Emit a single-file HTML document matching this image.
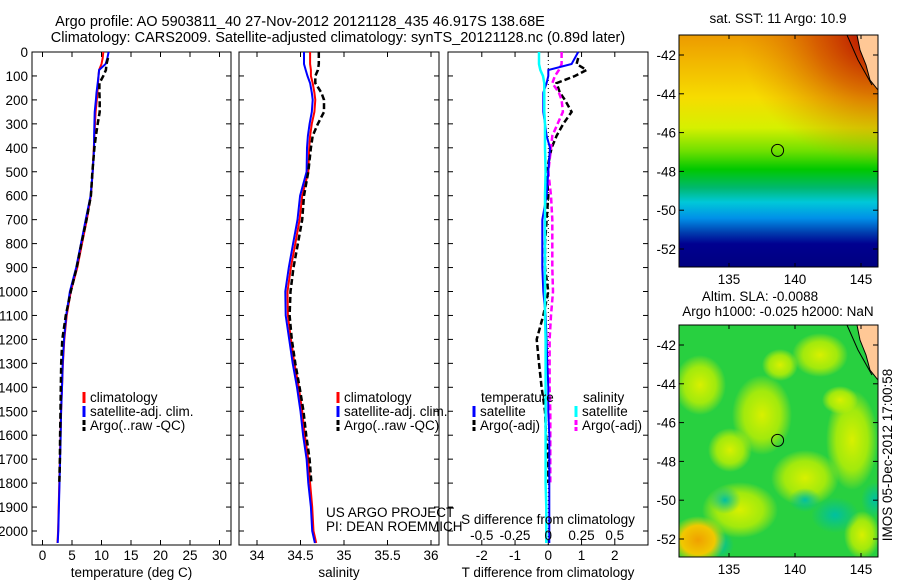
<!DOCTYPE html>
<html><head><meta charset="utf-8"><style>
body{margin:0;background:#fff;}
svg{display:block;font-family:"Liberation Sans",sans-serif;}
text{font-size:13.5px;fill:#000;}
</style></head>
<body>
<svg id="fig" width="900" height="580" viewBox="0 0 900 580">
<rect width="900" height="580" fill="#fff"/>
<text x="300" y="26" text-anchor="middle" style="font-size:14.5px">Argo profile: AO 5903811_40 27-Nov-2012 20121128_435 46.917S 138.68E</text>
<text x="338" y="42" text-anchor="middle" style="font-size:14.5px">Climatology: CARS2009. Satellite-adjusted climatology: synTS_20121128.nc (0.89d later)</text>

<defs>
<linearGradient id="sstg" x1="0" y1="0" x2="0" y2="1">
<stop offset="0" stop-color="#ec9a00"/><stop offset="0.12" stop-color="#f2b800"/><stop offset="0.27" stop-color="#f6dc00"/>
<stop offset="0.4" stop-color="#d6f000"/><stop offset="0.5" stop-color="#70e000"/><stop offset="0.58" stop-color="#00c800"/>
<stop offset="0.66" stop-color="#00b870"/><stop offset="0.72" stop-color="#00c8d8"/><stop offset="0.79" stop-color="#0090e8"/>
<stop offset="0.85" stop-color="#0040b0"/><stop offset="0.9" stop-color="#000090"/><stop offset="1" stop-color="#000080"/>
</linearGradient>
<radialGradient id="hot" cx="1" cy="0" r="1"><stop offset="0" stop-color="#b00000"/><stop offset="0.45" stop-color="#c83000" stop-opacity="0.6"/><stop offset="1" stop-color="#e08000" stop-opacity="0"/></radialGradient>
<radialGradient id="yel" cx="0.5" cy="0.5" r="0.5"><stop offset="0" stop-color="#d8f000"/><stop offset="0.6" stop-color="#c0f000" stop-opacity="0.8"/><stop offset="1" stop-color="#d8f000" stop-opacity="0"/></radialGradient>
<radialGradient id="teal" cx="0.5" cy="0.5" r="0.5"><stop offset="0" stop-color="#00c0a0"/><stop offset="1" stop-color="#00c0a0" stop-opacity="0"/></radialGradient>
<radialGradient id="org" cx="0.5" cy="0.5" r="0.5"><stop offset="0" stop-color="#f0a000"/><stop offset="0.6" stop-color="#f0c800"/><stop offset="1" stop-color="#e0e000" stop-opacity="0"/></radialGradient>
<clipPath id="c1"><rect x="679" y="35" width="199" height="232"/></clipPath>
<clipPath id="c2"><rect x="679" y="325" width="199" height="232"/></clipPath>
</defs>

<g>
<text x="778" y="23" text-anchor="middle">sat. SST: 11  Argo: 10.9</text>
<g clip-path="url(#c1)">
<rect x="679" y="35" width="199" height="232" fill="url(#sstg)"/>
<rect x="740" y="35" width="138" height="130" fill="url(#hot)"/>
<path d="M857 35 L878 35 L878 90 L870 80 L866 65 L860 50 Z" fill="#ffc896" stroke="#000" stroke-width="1"/>
<path d="M847 35 L858 60 L872 85" fill="none" stroke="#000" stroke-width="1"/>
</g>
<rect x="679" y="35" width="199" height="232" fill="none" stroke="#000"/>
<circle cx="777.6" cy="150.4" r="6" fill="none" stroke="#000"/>
</g>

<g>
<text x="760" y="301" text-anchor="middle">Altim. SLA: -0.0088</text>
<text x="778" y="316" text-anchor="middle">Argo h1000: -0.025 h2000: NaN</text>
<g clip-path="url(#c2)">
<rect x="679" y="325" width="199" height="232" fill="#28d040"/>
<ellipse cx="762" cy="415" rx="30" ry="40" fill="url(#yel)"/>
<ellipse cx="740" cy="510" rx="38" ry="28" fill="url(#yel)"/>
<ellipse cx="852" cy="440" rx="26" ry="50" fill="url(#yel)"/>
<ellipse cx="805" cy="478" rx="34" ry="28" fill="url(#yel)"/>
<ellipse cx="700" cy="385" rx="26" ry="30" fill="url(#yel)"/>
<ellipse cx="820" cy="355" rx="28" ry="22" fill="url(#yel)"/>
<ellipse cx="730" cy="450" rx="22" ry="22" fill="url(#yel)"/>
<ellipse cx="780" cy="365" rx="18" ry="16" fill="url(#yel)"/>
<ellipse cx="840" cy="400" rx="18" ry="14" fill="url(#yel)"/>
<ellipse cx="862" cy="535" rx="18" ry="24" fill="url(#yel)"/>
<ellipse cx="835" cy="515" rx="24" ry="18" fill="url(#teal)"/>
<ellipse cx="875" cy="500" rx="14" ry="18" fill="url(#teal)"/>
<ellipse cx="725" cy="500" rx="16" ry="14" fill="url(#teal)"/>
<ellipse cx="805" cy="500" rx="16" ry="12" fill="url(#teal)"/>
<ellipse cx="720" cy="545" rx="14" ry="14" fill="url(#teal)"/>
<ellipse cx="698" cy="540" rx="28" ry="24" fill="url(#org)"/>
<path d="M857 325 L878 325 L878 380 L870 370 L866 355 L860 340 Z" fill="#ffc896" stroke="#000" stroke-width="1"/>
<path d="M847 325 L858 350 L872 375" fill="none" stroke="#000" stroke-width="1"/>
</g>
<rect x="679" y="325" width="199" height="232" fill="none" stroke="#000"/>
<circle cx="777.6" cy="440.4" r="6" fill="none" stroke="#000"/>
</g>
<text transform="translate(892,455) rotate(-90)" text-anchor="middle">IMOS 05-Dec-2012 17:00:58</text>
<g id="axes"></g>
</svg>
<script>
const depths=[0,25,50,75,100,130,170,200,250,300,350,400,500,600,700,800,900,1000,1100,1200,1300,1400,1500,1600,1700,1800,1900,2000,2050];
const climT=[10.3,10.2,10.0,9.6,9.5,9.4,9.3,9.2,9.0,8.9,8.8,8.7,8.5,8.2,7.5,6.7,5.9,4.8,4.1,3.7,3.45,3.3,3.15,3.05,2.95,2.85,2.75,2.65,2.55];
const satTdiff=[0.9,0.8,0.7,0.0,0.0,-0.05,-0.15,-0.15,-0.15,-0.1,-0.05,0.05,0.0,-0.05,-0.18,-0.18,-0.18,-0.15,-0.08,-0.05,-0.03,0.0,0.0,0.03,0.03,0.03,0.03,0.03,0.03];
const argoTdiff=[null,0.9,0.85,1.15,0.8,0.25,0.35,0.5,0.7,0.45,0.25,0.1,-0.05,0,-0.05,-0.1,-0.1,0.0,-0.15,-0.35,-0.28,-0.2,-0.1,-0.07,0,0.0,null,null,null];
const climS=[34.61,34.61,34.61,34.62,34.62,34.64,34.66,34.67,34.66,34.63,34.61,34.60,34.59,34.52,34.49,34.44,34.39,34.35,34.355,34.39,34.43,34.48,34.52,34.55,34.59,34.61,34.635,34.65,34.68];
const satSdiff=[-0.07,-0.07,-0.07,-0.06,-0.04,-0.03,-0.03,-0.03,-0.03,-0.025,-0.025,-0.025,-0.02,-0.025,-0.025,-0.025,-0.025,-0.025,-0.025,-0.02,-0.02,-0.02,-0.02,-0.02,-0.02,-0.02,-0.015,-0.015,-0.015];
const argoSdiff=[0.1,0.1,0.1,0.08,0.05,0.03,0.08,0.1,0.11,0.07,0.03,0.02,0.0,0.02,0.03,0.03,0.03,0.035,0.02,0.01,0.01,0.01,0.015,0.015,0.015,0.015,null,null,null];
const depthTicks=[0,100,200,300,400,500,600,700,800,900,1000,1100,1200,1300,1400,1500,1600,1700,1800,1900,2000];
const tTicks=[0,5,10,15,20,25,30];
const sTicks=[34,34.5,35,35.5,36];
const dTicks=[-2,-1,0,1,2];
const sdTicks=[-0.5,-0.25,0,0.25,0.5];
const sdLabels=["-0.5","-0.25","0","0.25","0.5"];
const latTicks=[-42,-44,-46,-48,-50,-52];
const lonTicks=[135,140,145];

const NS="http://www.w3.org/2000/svg";
const root=document.getElementById('axes');
function mk(tag,attrs,parent){const e=document.createElementNS(NS,tag);for(const k in attrs)e.setAttribute(k,attrs[k]);(parent||root).appendChild(e);return e;}
function txt(x,y,s,anchor,parent){const e=mk('text',{x:x,y:y,'text-anchor':anchor||'middle'},parent);e.textContent=s;return e;}
const TOP=52,BOT=545;
const yD=d=>TOP+d*0.2395;
function linX(v0,p0,v1,p1){return v=>p0+(v-v0)*(p1-p0)/(v1-v0);}
const xT=linX(0,42.5,30,219.5);
const xS=linX(34,257,36,431);
const xD=linX(0,548.3,2,614.8);
const xSD=v=>xD(v*4);

function panel(name,x0,x1,ticks,xf,labels,xlabel){
  const g=mk('g',{});
  
  
  mk('rect',{x:x0,y:TOP,width:x1-x0,height:BOT-TOP,fill:'none',stroke:'#000'},g);
  depthTicks.forEach(d=>{const y=yD(d);mk('line',{x1:x0,x2:x0+5,y1:y,y2:y,stroke:'#000'},g);mk('line',{x1:x1-5,x2:x1,y1:y,y2:y,stroke:'#000'},g);});
  ticks.forEach((t,i)=>{const x=xf(t);mk('line',{x1:x,x2:x,y1:TOP,y2:TOP+5,stroke:'#000'},g);mk('line',{x1:x,x2:x,y1:BOT-5,y2:BOT,stroke:'#000'},g);
    const l=txt(x,560,labels[i],'middle',g);
    
    });
  const xl=txt((x0+x1)/2,577,xlabel,'middle',g);
  
  
  return g;
}
function line(g,name,xs,xf,color,w,dash){
  let d='',pen=false;
  depths.forEach((dep,i)=>{const v=xs[i];if(v===null||v===undefined){pen=false;return;}d+=(pen?'L':'M')+xf(v).toFixed(1)+' '+yD(dep).toFixed(1)+' ';pen=true;});
  const p=mk('path',{d:d,fill:'none',stroke:color,'stroke-width':w},g);
  if(dash)p.setAttribute('stroke-dasharray',dash);
  
  
}
function legend(g,x,y,color,label,dashed){
  const m=mk('line',{x1:x,x2:x,y1:y-10,y2:y+1,stroke:color,'stroke-width':3},g);
  if(dashed)m.setAttribute('stroke-dasharray','5,2');
  
  
  const t=txt(x+6,y,label,'start',g);
  
  
}
const sum=(a,b)=>a.map((v,i)=>(v===null||b[i]===null)?null:v+b[i]);

depthTicks.forEach(d=>{const t=txt(28,yD(d)+5,String(d),'end');
  
  });

const g1=panel('temperature-panel',32,231,tTicks,xT,tTicks.map(String),'temperature (deg C)');
line(g1,'temp-climatology',climT,xT,'#f00',2);
line(g1,'temp-satellite-adj',sum(climT,satTdiff),xT,'#00f',2);
line(g1,'temp-argo',sum(climT,argoTdiff),xT,'#000',2.5,'6,3');
legend(g1,84,402,'#f00','climatology');
legend(g1,84,416,'#00f','satellite-adj. clim.');
legend(g1,84,430,'#000','Argo(..raw -QC)',true);

const g2=panel('salinity-panel',239,439,sTicks,xS,sTicks.map(String),'salinity');
line(g2,'sal-climatology',climS,xS,'#f00',2);
line(g2,'sal-satellite-adj',sum(climS,satSdiff),xS,'#00f',2);
line(g2,'sal-argo',sum(climS,argoSdiff),xS,'#000',2.5,'6,3');
legend(g2,338,402,'#f00','climatology');
legend(g2,338,416,'#00f','satellite-adj. clim.');
legend(g2,338,430,'#000','Argo(..raw -QC)',true);
txt(326,517,'US ARGO PROJECT','start',g2);
txt(326,531,'PI: DEAN ROEMMICH','start',g2);

const g3=panel('difference-panel',448,648,dTicks,xD,dTicks.map(String),'T difference from climatology');
mk('line',{x1:xD(0),x2:xD(0),y1:TOP,y2:BOT,stroke:'#000','stroke-dasharray':'1,3'},g3);
line(g3,'temp-diff-argo',argoTdiff,xD,'#000',2.5,'6,3');
line(g3,'sal-diff-argo',argoSdiff,xSD,'#f0f',2.5,'6,3');
line(g3,'temp-diff-satellite',satTdiff,xD,'#00f',2);
line(g3,'sal-diff-satellite',satSdiff,xSD,'#0ff',2.5);
sdTicks.forEach((v,i)=>{const t=txt(xSD(v),540,sdLabels[i],'middle',g3);
  
  });
txt(548,524,'S difference from climatology','middle',g3);
txt(481,402,'temperature','start',g3);
txt(583,402,'salinity','start',g3);
legend(g3,474,416,'#00f','satellite');
legend(g3,474,430,'#000','Argo(-adj)',true);
legend(g3,576,416,'#0ff','satellite');
legend(g3,576,430,'#f0f','Argo(-adj)',true);

function mapAxes(name,top,bottom,lat42,lat52){
  const g=mk('g',{});
  
  
  const yL=linX(-42,lat42,-52,lat52);const xL=linX(135,729,145,861);
  latTicks.forEach(v=>{const y=yL(v);mk('line',{x1:679,x2:684,y1:y,y2:y,stroke:'#000'},g);mk('line',{x1:873,x2:878,y1:y,y2:y,stroke:'#000'},g);
    const t=txt(676,y+5,String(v),'end',g);
    
    });
  lonTicks.forEach(v=>{const x=xL(v);mk('line',{x1:x,x2:x,y1:top,y2:top+4,stroke:'#000'},g);mk('line',{x1:x,x2:x,y1:bottom-4,y2:bottom,stroke:'#000'},g);
    const t=txt(x,bottom+17,String(v),'middle',g);
    
    });
}
mapAxes('sst-map-axes',35,267,55,249);
mapAxes('sla-map-axes',325,557,345,539);
</script>
</body></html>
